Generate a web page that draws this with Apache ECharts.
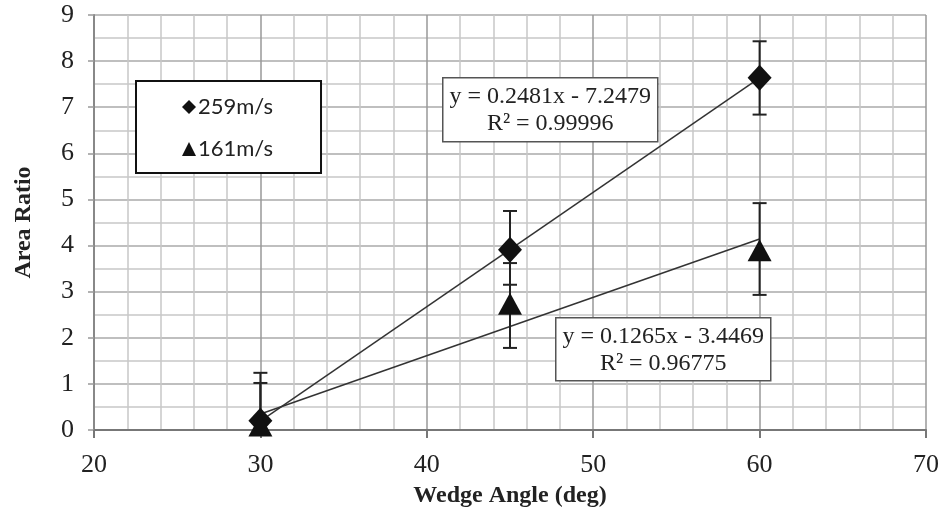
<!DOCTYPE html>
<html>
<head>
<meta charset="utf-8">
<script src="https://cdn.jsdelivr.net/npm/echarts@6/dist/echarts.min.js"></script>
<style>
html,body{margin:0;padding:0;background:#fff;}
#chart{width:942px;height:516px;}
</style>
</head>
<body>
<div id="chart"></div>
<script>
// 数据
var angles = [30, 45, 60];
var ratio259 = [0.2, 3.91, 7.64];
var err259Low = [0, 3.15, 6.84];
var err259High = [1.24, 4.75, 8.43];
var ratio161 = [0.1, 2.74, 3.9];
var err161Low = [0, 1.78, 2.93];
var err161High = [1.02, 3.62, 4.92];
var trend259 = [[30, 0.195], [60, 7.638]];
var trend161 = [[30, 0.348], [60, 4.143]];
var eq259 = ["y = 0.2481x - 7.2479", "R\u00b2 = 0.99996"];
var eq161 = ["y = 0.1265x - 3.4469", "R\u00b2 = 0.96775"];

var serif = "Liberation Serif";
var chart = echarts.init(document.getElementById("chart"));

function pairs(xs, ys) {
	var arr = [];
	for (var i = 0; i < xs.length; i++) arr.push([xs[i], ys[i]]);
	return arr;
}
function errData(xs, lo, hi) {
	var arr = [];
	for (var i = 0; i < xs.length; i++) arr.push([xs[i], lo[i], hi[i]]);
	return arr;
}
//误差棒
function renderErr(params, api) {
	var x = api.value(0);
	var lo = api.coord([x, api.value(1)]);
	var hi = api.coord([x, api.value(2)]);
	var w = 7;
	var st = { stroke: "#222", lineWidth: 2 };
	return {
		type: "group",
		children: [
			{ type: "line", shape: { x1: lo[0], y1: lo[1], x2: hi[0], y2: hi[1] }, style: st },
			{ type: "line", shape: { x1: hi[0] - w, y1: hi[1], x2: hi[0] + w, y2: hi[1] }, style: st },
			{ type: "line", shape: { x1: lo[0] - w, y1: lo[1], x2: lo[0] + w, y2: lo[1] }, style: st }
		]
	};
}
//公式框
function eqBox(lines, x, y, w, h) {
	return {
		type: "group", left: x, top: y,
		children: [
			{ type: "rect", z: 20, shape: { x: 0, y: 0, width: w, height: h },
				style: { fill: "#fff", stroke: "#555", lineWidth: 1.5 } },
			{ type: "text", z: 21, x: w / 2, y: h / 2 - 13,
				style: { text: lines[0], font: "24px " + serif, fill: "#222", align: "center", verticalAlign: "middle" } },
			{ type: "text", z: 21, x: w / 2, y: h / 2 + 14,
				style: { text: lines[1], font: "24px " + serif, fill: "#222", align: "center", verticalAlign: "middle" } }
		]
	};
}

var option = {
	animation: false,
	backgroundColor: "#fff",
	grid: { left: 94, right: 16, top: 15, bottom: 86 },
	legend: {
		data: [
			{ name: "259m/s", icon: "diamond" },
			{ name: "161m/s", icon: "triangle" }
		],
		orient: "vertical",
		left: 136,
		top: 81,
		padding: [15, 48, 13, 46],
		itemGap: 20,
		itemWidth: 14,
		itemHeight: 14,
		borderColor: "#111",
		borderWidth: 2,
		backgroundColor: "#fff",
		textStyle: { fontFamily: "Lato", fontSize: 22, color: "#222", padding: [0, 0, 0, -3] }
	},
	xAxis: {
		type: "value",
		min: 20,
		max: 70,
		interval: 10,
		name: "Wedge Angle (deg)",
		nameLocation: "middle",
		nameGap: 54,
		nameTextStyle: { fontFamily: serif, fontWeight: "bold", fontSize: 24, color: "#222" },
		axisLine: { lineStyle: { color: "#777", width: 2 } },
		axisTick: { show: true, length: 8, lineStyle: { color: "#777", width: 2 } },
		axisLabel: { fontFamily: serif, fontSize: 26, color: "#222", margin: 22 },
		splitLine: { show: true, lineStyle: { color: "#999", width: 1.5 } },
		minorTick: { show: false, splitNumber: 5 },
		minorSplitLine: { show: true, lineStyle: { color: "#c8c8c8", width: 1.5 } }
	},
	yAxis: {
		type: "value",
		min: 0,
		max: 9,
		interval: 1,
		name: "Area Ratio",
		nameLocation: "middle",
		nameGap: 58,
		nameTextStyle: { fontFamily: serif, fontWeight: "bold", fontSize: 24, color: "#222" },
		axisLine: { show: true, lineStyle: { color: "#888", width: 2 } },
		axisTick: { show: true, length: 6, lineStyle: { color: "#999", width: 1.5 } },
		axisLabel: { fontFamily: serif, fontSize: 26, color: "#222", margin: 20 },
		splitLine: { show: true, lineStyle: { color: "#aaa", width: 1.5 } },
		minorTick: { show: false, splitNumber: 2 },
		minorSplitLine: { show: true, lineStyle: { color: "#c8c8c8", width: 1.5 } }
	},
	series: [
		{
			name: "trend259", type: "line", data: trend259, symbol: "none", silent: true,
			lineStyle: { color: "#333", width: 1.5 }, z: 3
		},
		{
			name: "trend161", type: "line", data: trend161, symbol: "none", silent: true,
			lineStyle: { color: "#333", width: 1.5 }, z: 3
		},
		{
			name: "err259", type: "custom", renderItem: renderErr,
			data: errData(angles, err259Low, err259High), z: 4
		},
		{
			name: "err161", type: "custom", renderItem: renderErr,
			data: errData(angles, err161Low, err161High), z: 4
		},
		{
			name: "259m/s", type: "scatter", data: pairs(angles, ratio259),
			symbol: "diamond", symbolSize: [24, 26], itemStyle: { color: "#111", opacity: 1 }, z: 5
		},
		{
			name: "161m/s", type: "scatter", data: pairs(angles, ratio161),
			symbol: "triangle", symbolSize: [24, 22], itemStyle: { color: "#111", opacity: 1 }, z: 5
		}
	],
	graphic: [
		eqBox(eq259, 442, 77, 215, 64),
		eqBox(eq161, 555, 317, 215, 63)
	]
};
chart.setOption(option);
</script>
</body>
</html>
